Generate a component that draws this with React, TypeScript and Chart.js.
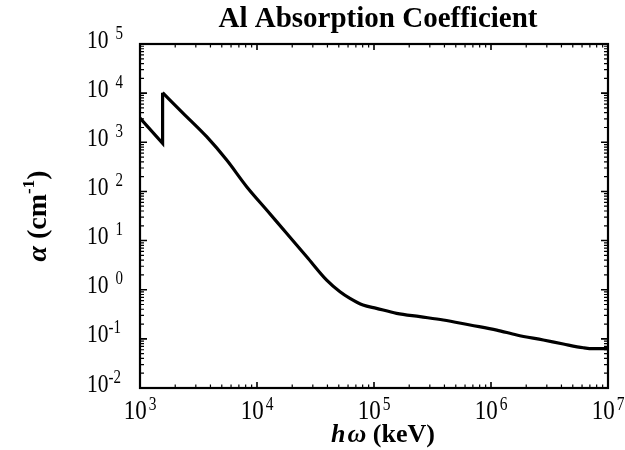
import React, { useEffect, useRef } from "react";
import { Chart, registerables } from "chart.js";

Chart.register(...registerables);

// Photon energy (keV, as labelled) and absorption coefficient alpha (cm^-1)
const energyKeV = [
  1000, 1560, 1560, 2340, 3715, 5510, 8160, 12100, 17900, 26600, 39400, 51200,
  62300, 80500, 105000, 156000, 247000, 391000, 662000, 1120000, 1660000,
  2800000, 4150000, 6150000, 7500000, 10000000,
];
const alpha = [
  3100, 950, 10200, 3890, 1300, 435, 125, 41.9, 14.1, 4.7, 1.57, 0.91, 0.668,
  0.489, 0.418, 0.331, 0.283, 0.242, 0.191, 0.151, 0.12, 0.0947, 0.0785, 0.066,
  0.063, 0.063,
];
// index of the absorption-edge top point (start of the smooth part)
const edgeIndex = 2;

const xTickExponents = [3, 4, 5, 6, 7];
const yTickExponents = [-2, -1, 0, 1, 2, 3, 4, 5];
const chartTitle = "Al Absorption Coefficient";
const xTitleItalic = ["h", "ω"];
const xTitleRest = " (keV)";
const yTitleSymbol = "α";
const yTitleUnit = " (cm";
const yTitleExp = "-1";

const SERIF = '"Liberation Serif", "Times New Roman", serif';

function drawStretched(
  ctx: CanvasRenderingContext2D,
  text: string,
  x: number,
  y: number,
  font: string,
  sy: number
) {
  ctx.save();
  ctx.font = font;
  ctx.textAlign = "left";
  ctx.textBaseline = "alphabetic";
  ctx.translate(x, y);
  ctx.scale(1, sy);
  ctx.fillText(text, 0, 0);
  ctx.restore();
}

const framePlugin = {
  id: "framePlugin",
  afterDatasetsDraw(chart: any) {
    const ctx: CanvasRenderingContext2D = chart.ctx;
    const { left, right, top, bottom } = chart.chartArea;
    const xs = chart.scales.x;
    const ys = chart.scales.y;
    ctx.save();
    ctx.strokeStyle = "#000";
    ctx.fillStyle = "#000";

    // ticks
    const xMin = Math.min(...xTickExponents);
    const xMax = Math.max(...xTickExponents);
    for (let e = xMin; e <= xMax; e++) {
      for (let m = 1; m <= 9; m++) {
        const v = m * Math.pow(10, e);
        if (v > Math.pow(10, xMax)) break;
        const px = xs.getPixelForValue(v);
        const len = m === 1 ? 6 : 3.5;
        ctx.lineWidth = m === 1 ? 1.6 : 1.2;
        ctx.beginPath();
        ctx.moveTo(px, bottom);
        ctx.lineTo(px, bottom - len);
        ctx.moveTo(px, top);
        ctx.lineTo(px, top + len);
        ctx.stroke();
      }
    }
    const yMin = Math.min(...yTickExponents);
    const yMax = Math.max(...yTickExponents);
    for (let e = yMin; e <= yMax; e++) {
      for (let m = 1; m <= 9; m++) {
        const v = m * Math.pow(10, e);
        if (v > Math.pow(10, yMax)) break;
        const py = ys.getPixelForValue(v);
        const len = m === 1 ? 7 : 4;
        ctx.lineWidth = m === 1 ? 1.6 : 1.2;
        ctx.beginPath();
        ctx.moveTo(left, py);
        ctx.lineTo(left + len, py);
        ctx.moveTo(right, py);
        ctx.lineTo(right - len, py);
        ctx.stroke();
      }
    }

    // frame
    ctx.lineWidth = 2.2;
    ctx.strokeRect(left, top, right - left, bottom - top);

    // y tick labels
    const yMain = `21.5px ${SERIF}`;
    const yExp = `15px ${SERIF}`;
    for (const e of yTickExponents) {
      const py = ys.getPixelForValue(Math.pow(10, e));
      const base = py + 3.5;
      const x0 = left - 53;
      ctx.font = yMain;
      const w10 = ctx.measureText("10").width;
      drawStretched(ctx, "10", x0, base, yMain, 1.2);
      drawStretched(ctx, String(e), x0 + w10 + (e >= 0 ? 7 : 0), base - 9, yExp, 1.2);
    }

    // x tick labels
    const xMainF = `23px ${SERIF}`;
    const xExpF = `15.5px ${SERIF}`;
    for (const e of xTickExponents) {
      const px = xs.getPixelForValue(Math.pow(10, e));
      const base = bottom + 31;
      ctx.font = xMainF;
      const w10 = ctx.measureText("10").width;
      ctx.font = xExpF;
      const we = ctx.measureText(String(e)).width;
      const total = w10 + 2 + we;
      const x0 = px - total / 2;
      drawStretched(ctx, "10", x0, base, xMainF, 1.2);
      drawStretched(ctx, String(e), x0 + w10 + 2, base - 9, xExpF, 1.2);
    }

    // title
    ctx.font = `bold 29px ${SERIF}`;
    ctx.textAlign = "center";
    ctx.textBaseline = "alphabetic";
    ctx.fillText(chartTitle, (left + right) / 2 + 4, 27);

    // x axis title
    const itF = `italic bold 26px ${SERIF}`;
    const bF = `bold 26px ${SERIF}`;
    ctx.textAlign = "left";
    ctx.font = itF;
    const wh = ctx.measureText(xTitleItalic[0]).width;
    const ww = ctx.measureText(xTitleItalic[1]).width;
    ctx.font = bF;
    const wr = ctx.measureText(xTitleRest).width;
    const gap = 2;
    const totalX = wh + gap + ww + wr;
    let cx = (left + right) / 2 + 9 - totalX / 2;
    const xb = 442;
    ctx.font = itF;
    ctx.fillText(xTitleItalic[0], cx, xb);
    cx += wh + gap;
    ctx.fillText(xTitleItalic[1], cx, xb);
    cx += ww;
    ctx.font = bF;
    ctx.fillText(xTitleRest, cx, xb);

    // y axis title (rotated)
    ctx.save();
    ctx.translate(46, (top + bottom) / 2);
    ctx.rotate(-Math.PI / 2);
    const yIt = `italic bold 28px ${SERIF}`;
    const yB = `bold 28px ${SERIF}`;
    const ySup = `bold 17px ${SERIF}`;
    ctx.font = yIt;
    const wa = ctx.measureText(yTitleSymbol).width;
    ctx.font = yB;
    const wu = ctx.measureText(yTitleUnit).width;
    const wp = ctx.measureText(")").width;
    ctx.font = ySup;
    const ws = ctx.measureText(yTitleExp).width;
    const totalY = wa + wu + ws + wp;
    let ty = -totalY / 2;
    ctx.font = yIt;
    ctx.fillText(yTitleSymbol, ty, 0);
    ty += wa;
    ctx.font = yB;
    ctx.fillText(yTitleUnit, ty, 0);
    ty += wu;
    ctx.font = ySup;
    ctx.fillText(yTitleExp, ty, -12);
    ty += ws;
    ctx.font = yB;
    ctx.fillText(")", ty, 0);
    ctx.restore();

    ctx.restore();
  },
};

export default function App() {
  const canvasRef = useRef<HTMLCanvasElement | null>(null);

  useEffect(() => {
    document.body.style.margin = "0";
    const canvas = canvasRef.current;
    if (!canvas) return;
    const points = energyKeV.map((x, i) => ({ x, y: alpha[i] }));
    const edgePart = points.slice(0, edgeIndex + 1);
    const smoothPart = points.slice(edgeIndex);
    const chart = new Chart(canvas, {
      type: "line",
      data: {
        datasets: [
          {
            data: edgePart,
            borderColor: "#000",
            borderWidth: 3.2,
            pointRadius: 0,
            tension: 0,
            fill: false,
          },
          {
            data: smoothPart,
            borderColor: "#000",
            borderWidth: 3.2,
            pointRadius: 0,
            cubicInterpolationMode: "monotone",
            fill: false,
          },
        ],
      },
      options: {
        animation: false,
        responsive: false,
        devicePixelRatio: 1,
        layout: { padding: { left: 140, right: 17, top: 44, bottom: 62 } },
        plugins: {
          legend: { display: false },
          tooltip: { enabled: false },
          title: { display: false },
        },
        scales: {
          x: {
            type: "logarithmic",
            display: false,
            min: Math.pow(10, Math.min(...xTickExponents)),
            max: Math.pow(10, Math.max(...xTickExponents)),
          },
          y: {
            type: "logarithmic",
            display: false,
            min: Math.pow(10, Math.min(...yTickExponents)),
            max: Math.pow(10, Math.max(...yTickExponents)),
          },
        },
      },
      plugins: [framePlugin],
    });
    return () => chart.destroy();
  }, []);

  return (
    <div style={{ position: "absolute", left: 0, top: 0, width: 625, height: 450, background: "#fff" }}>
      <canvas ref={canvasRef} width={625} height={450} style={{ display: "block" }} />
    </div>
  );
}
